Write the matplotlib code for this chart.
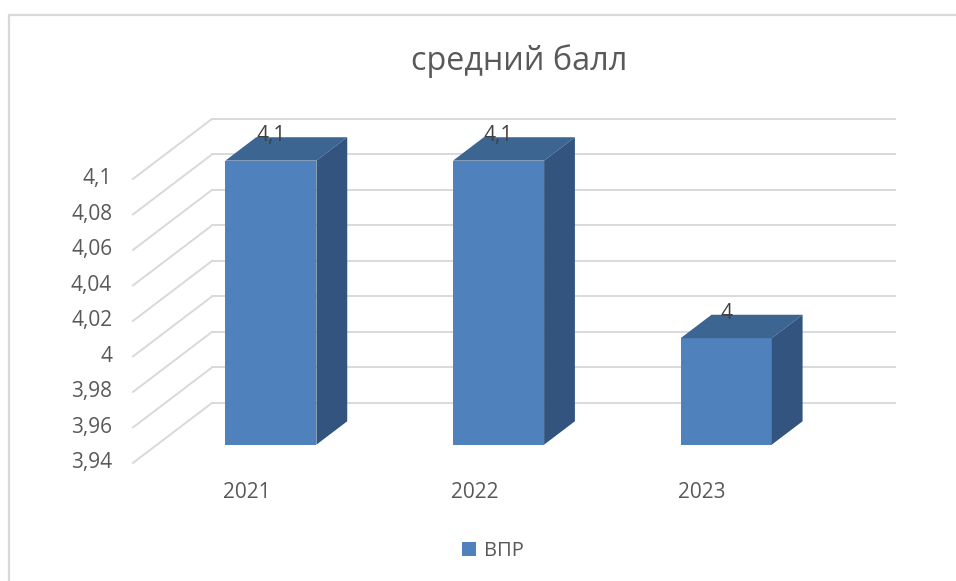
import matplotlib.pyplot as plt
from matplotlib.patches import Polygon, Rectangle
import numpy as np

# Chart data
years = ['2021', '2022', '2023']
values = [4.1, 4.1, 4.0]
value_labels = ['4,1', '4,1', '4']
yticks = [3.94, 3.96, 3.98, 4.0, 4.02, 4.04, 4.06, 4.08, 4.1]
ytick_labels = ['3,94', '3,96', '3,98', '4', '4,02', '4,04', '4,06', '4,08', '4,1']
series_name = 'ВПР'
title = 'средний балл'

plt.rcParams['font.family'] = ['Open Sans', 'DejaVu Sans']

text_col = '#595959'
grid_col = '#d9d9d9'
front_col = '#4f81bd'
top_col = '#3c6591'
side_col = '#32547e'

fig = plt.figure(figsize=(9.56, 5.81), dpi=100)
ax = fig.add_axes([0, 0, 1, 1])
ax.set_xlim(-1.084, 3.115)
ax.set_ylim(3.8735, 4.2008)
ax.axis('off')

# pseudo-3d depth offsets (in data units)
DX = 0.347
DY = 0.0338
ymin = yticks[0]
x_left = -0.5
x_right = len(years) - 0.5

# walls: back gridlines and side diagonals
for v in yticks:
    ax.plot([x_left + DX, x_right + DX], [v + DY, v + DY], color=grid_col, lw=1.4, zorder=1)
    ax.plot([x_left, x_left + DX], [v, v + DY], color=grid_col, lw=1.4, zorder=1)

# bars
f0 = 0.305   # where the front face sits in the depth
bd = 0.39    # bar depth as a fraction of the full depth
bw = 0.4
xs = np.arange(len(years))
bars = ax.bar(xs + f0 * DX, np.array(values) - ymin, width=bw, bottom=ymin + f0 * DY,
              color=front_col, zorder=3, label=series_name)

for i, val in enumerate(values):
    xl = i - bw / 2 + f0 * DX
    xr = i + bw / 2 + f0 * DX
    yt = val + f0 * DY
    yb = ymin + f0 * DY
    top = Polygon([(xl, yt), (xr, yt), (xr + bd * DX, yt + bd * DY), (xl + bd * DX, yt + bd * DY)],
                  closed=True, facecolor=top_col, edgecolor='none', zorder=3)
    side = Polygon([(xr, yb), (xr, yt), (xr + bd * DX, yt + bd * DY), (xr + bd * DX, yb + bd * DY)],
                   closed=True, facecolor=side_col, edgecolor='none', zorder=3)
    ax.add_patch(top)
    ax.add_patch(side)
    ax.annotate(value_labels[i], (i + f0 * DX, yt), xytext=(0, 18), textcoords='offset points',
                ha='center', va='center', fontsize=15, color='#404040', zorder=5)

# axis labels
for v, lab in zip(yticks, ytick_labels):
    ax.annotate(lab, (x_left, v), xytext=(-15, 0), textcoords='offset points',
                ha='right', va='center', fontsize=15, color=text_col)

for i, yr in enumerate(years):
    ax.annotate(yr, (i, ymin), xytext=(0, -21.5), textcoords='offset points',
                ha='center', va='center', fontsize=15, color=text_col)

fig.text(519 / 956, 1 - 61 / 581, title, ha='center', va='center', fontsize=23.3, color=text_col)

fig.legend(handles=[bars], labels=[series_name], loc='center',
           bbox_to_anchor=(493 / 956, 1 - 551 / 581), frameon=False,
           handlelength=0.7, handleheight=0.7, handletextpad=0.4,
           prop={'size': 14.5}, labelcolor=text_col)

# chart area border
fig.add_artist(Rectangle((9 / 956, -0.1), 1.2, 1.1 - 15 / 581, transform=fig.transFigure,
                         fill=False, edgecolor=grid_col, lw=1.6))

fig.savefig('out.png', dpi=100)
